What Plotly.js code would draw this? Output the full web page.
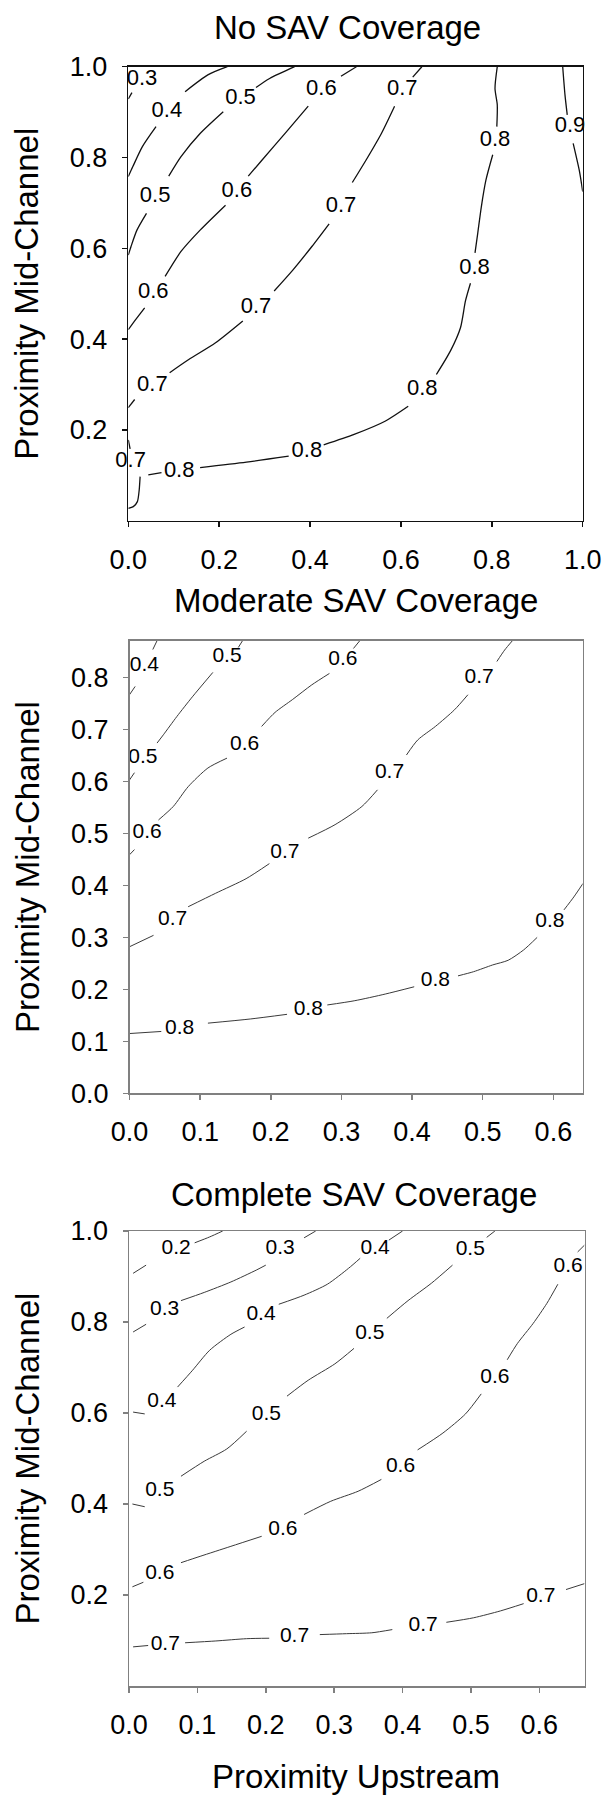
<!DOCTYPE html>
<html>
<head>
<meta charset="utf-8">
<script src="https://cdn.plot.ly/plotly-3.0.1.min.js"></script>
<style>html,body{margin:0;padding:0;background:#fff;}#chart{width:604px;height:1797px;}</style>
</head>
<body>
<div id="chart"></div>
<script>
// ---------- Panel 1: No SAV Coverage ----------
const noTitle = "No SAV Coverage";
const noXTicks = [0.0, 0.2, 0.4, 0.6, 0.8, 1.0];
const noYTicks = [0.2, 0.4, 0.6, 0.8, 1.0];
const no03x = [0, 0.008];
const no03y = [0.929, 0.943];
const no04x = [0.218, 0.175, 0.125, null, 0.061, 0.031, 0.010, 0];
const no04y = [1.0, 0.982, 0.945, null, 0.868, 0.824, 0.780, 0.758];
const no05x = [0.366, 0.311, 0.281, null, 0.209, 0.158, 0.116, 0.089, null, 0.040, 0.019, 0.006, 0];
const no05y = [1.0, 0.974, 0.954, null, 0.901, 0.853, 0.802, 0.759, null, 0.677, 0.640, 0.604, 0.585];
const no06x = [0.502, 0.468, null, 0.396, 0.345, 0.294, 0.264, null, 0.214, 0.158, 0.116, 0.081, null, 0.036, 0.014, 0];
const no06y = [1.0, 0.979, null, 0.913, 0.853, 0.794, 0.759, null, 0.695, 0.640, 0.593, 0.538, null, 0.469, 0.440, 0.421];
const no07x = [0.646, 0.626, null, 0.586, 0.557, 0.523, 0.493, null, 0.442, 0.404, 0.362, 0.321, null, 0.252, 0.192, 0.133, 0.091, null, 0.014, 0];
const no07y = [1.0, 0.977, null, 0.913, 0.853, 0.794, 0.745, null, 0.654, 0.604, 0.552, 0.506, null, 0.440, 0.392, 0.355, 0.326, null, 0.267, 0.249];
const no07bx = [0, 0.004, null, 0.026, 0.024, 0.020, 0.011, 0];
const no07by = [0.178, 0.158, null, 0.097, 0.068, 0.042, 0.031, 0.027];
const no08x = [0.812, 0.807, 0.812, 0.811, null, 0.802, 0.787, 0.777, 0.769, 0.763, null, 0.753, 0.742, 0.731, 0.709, 0.678, null, 0.616, 0.565, 0.497, 0.430, null, 0.353, 0.260, 0.158, null, 0.073, 0.044];
const no08y = [1.0, 0.952, 0.916, 0.868, null, 0.806, 0.750, 0.692, 0.633, 0.590, null, 0.523, 0.484, 0.425, 0.374, 0.322, null, 0.252, 0.219, 0.190, 0.167, null, 0.142, 0.129, 0.117, null, 0.106, 0.101];
const no09x = [0.956, 0.961, 0.966, null, 0.979, 0.993, 1.0];
const no09y = [1.0, 0.938, 0.894, null, 0.831, 0.769, 0.725];
const noLabX = [0.030, 0.085, 0.247, 0.059, 0.425, 0.239, 0.055, 0.603, 0.468, 0.281, 0.053, 0.807, 0.762, 0.647, 0.393, 0.112, 0.972, 0.005];
const noLabY = [0.971, 0.902, 0.930, 0.715, 0.949, 0.726, 0.502, 0.949, 0.692, 0.469, 0.297, 0.837, 0.556, 0.289, 0.152, 0.108, 0.868, 0.130];
const noLabT = ["0.3", "0.4", "0.5", "0.5", "0.6", "0.6", "0.6", "0.7", "0.7", "0.7", "0.7", "0.8", "0.8", "0.8", "0.8", "0.8", "0.9", "0.7"];

// ---------- Panel 2: Moderate SAV Coverage ----------
const modTitle = "Moderate SAV Coverage";
const modXTicks = [0.0, 0.1, 0.2, 0.3, 0.4, 0.5, 0.6];
const modYTicks = [0.0, 0.1, 0.2, 0.3, 0.4, 0.5, 0.6, 0.7, 0.8];
const mod04x = [0.039, 0.033, null, 0.008, 0];
const mod04y = [0.871, 0.854, null, 0.783, 0.767];
const mod05x = [0.160, 0.154, null, 0.118, 0.089, 0.067, 0.048, 0.039, null, 0.007, 0];
const mod05y = [0.871, 0.858, null, 0.810, 0.763, 0.725, 0.690, 0.674, null, 0.617, 0.603];
const mod06x = [0.326, 0.317, null, 0.283, 0.258, 0.231, 0.206, 0.187, null, 0.138, 0.111, 0.083, 0.062, 0.041, null, 0.007, 0];
const mod06y = [0.871, 0.856, null, 0.808, 0.786, 0.758, 0.733, 0.706, null, 0.645, 0.626, 0.590, 0.552, 0.526, null, 0.469, 0.459];
const mod07x = [0.542, 0.531, 0.520, null, 0.479, 0.460, 0.433, 0.408, 0.392, null, 0.351, 0.329, 0.291, 0.253, null, 0.198, 0.165, 0.122, 0.083, null, 0.034, 0];
const mod07y = [0.871, 0.853, 0.831, null, 0.767, 0.738, 0.706, 0.680, 0.651, null, 0.584, 0.552, 0.517, 0.491, null, 0.442, 0.413, 0.385, 0.359, null, 0.304, 0.282];
const mod08x = [0.642, 0.629, 0.615, null, 0.577, 0.558, 0.536, 0.514, 0.487, 0.465, null, 0.403, 0.362, 0.318, 0.280, null, 0.223, 0.171, 0.111, null, 0.045, 0];
const mod08y = [0.404, 0.378, 0.353, null, 0.300, 0.276, 0.256, 0.247, 0.234, 0.226, null, 0.205, 0.191, 0.178, 0.170, null, 0.152, 0.143, 0.135, null, 0.119, 0.115];
const modLabX = [0.021, 0.138, 0.019, 0.302, 0.163, 0.025, 0.495, 0.368, 0.220, 0.061, 0.595, 0.433, 0.253, 0.071];
const modLabY = [0.822, 0.840, 0.645, 0.835, 0.671, 0.501, 0.799, 0.616, 0.463, 0.333, 0.330, 0.216, 0.160, 0.124];
const modLabT = ["0.4", "0.5", "0.5", "0.6", "0.6", "0.6", "0.7", "0.7", "0.7", "0.7", "0.8", "0.8", "0.8", "0.8"];

// ---------- Panel 3: Complete SAV Coverage ----------
const comTitle = "Complete SAV Coverage";
const comXTicks = [0.0, 0.1, 0.2, 0.3, 0.4, 0.5, 0.6];
const comYTicks = [0.2, 0.4, 0.6, 0.8, 1.0];
const com02x = [0.006, 0.025, null, 0.096, 0.118, 0.137];
const com02y = [0.907, 0.925, null, 0.974, 0.987, 1.0];
const com03x = [0.006, 0.025, null, 0.076, 0.110, 0.149, 0.186, 0.200, null, 0.256, 0.273];
const com03y = [0.778, 0.795, null, 0.847, 0.865, 0.888, 0.914, 0.925, null, 0.985, 1.0];
const com04x = [0.006, 0.023, null, 0.071, 0.093, 0.118, 0.149, 0.169, null, 0.219, 0.256, 0.290, 0.321, 0.338, null, 0.380, 0.400];
const com04y = [0.602, 0.598, null, 0.657, 0.694, 0.738, 0.773, 0.789, null, 0.839, 0.859, 0.883, 0.918, 0.940, null, 0.980, 1.0];
const com05x = [0.005, 0.023, null, 0.076, 0.110, 0.143, 0.172, null, 0.231, 0.262, 0.301, 0.329, null, 0.377, 0.408, 0.442, 0.473, null, 0.523, 0.535];
const com05y = [0.400, 0.394, null, 0.461, 0.494, 0.521, 0.560, null, 0.637, 0.672, 0.708, 0.742, null, 0.808, 0.847, 0.885, 0.925, null, 0.986, 1.0];
const com06x = [0.666, 0.656, null, 0.627, 0.611, 0.591, 0.568, 0.553, null, 0.515, 0.492, 0.459, 0.422, null, 0.369, 0.335, 0.295, 0.256, null, 0.194, 0.149, 0.104, 0.076, null, 0.021, 0.005];
const com06y = [0.969, 0.954, null, 0.883, 0.841, 0.797, 0.753, 0.717, null, 0.642, 0.598, 0.556, 0.519, null, 0.454, 0.428, 0.406, 0.377, null, 0.329, 0.307, 0.285, 0.271, null, 0.228, 0.218];
const com07x = [0.006, 0.028, null, 0.082, 0.127, 0.172, 0.205, null, 0.279, 0.318, 0.355, 0.385, null, 0.464, 0.504, 0.543, 0.577, null, 0.639, 0.666];
const com07y = [0.086, 0.089, null, 0.095, 0.099, 0.104, 0.105, null, 0.113, 0.115, 0.117, 0.124, null, 0.140, 0.150, 0.165, 0.181, null, 0.212, 0.225];
const comLabX = [0.069, 0.052, 0.221, 0.048, 0.193, 0.360, 0.045, 0.201, 0.352, 0.499, 0.642, 0.535, 0.397, 0.225, 0.045, 0.053, 0.242, 0.430, 0.602];
const comLabY = [0.960, 0.826, 0.962, 0.624, 0.815, 0.962, 0.430, 0.596, 0.775, 0.958, 0.921, 0.678, 0.481, 0.344, 0.246, 0.091, 0.108, 0.133, 0.197];
const comLabT = ["0.2", "0.3", "0.3", "0.4", "0.4", "0.4", "0.5", "0.5", "0.5", "0.5", "0.6", "0.6", "0.6", "0.6", "0.6", "0.7", "0.7", "0.7", "0.7"];

const axisTitleX = "Proximity Upstream";
const axisTitleY = "Proximity Mid-Channel";

// ---------- build ----------
const FONT = "Liberation Sans, Arial, Helvetica, sans-serif";
const traces = [];
function addLine(x, y, xa, ya, color, width) {
  traces.push({type: "scatter", mode: "lines", x: x, y: y, xaxis: xa, yaxis: ya,
    connectgaps: false, line: {color: color, width: width, shape: "spline", smoothing: 0.7},
    hoverinfo: "skip", showlegend: false});
}
function addLabels(x, y, t, xa, ya, size) {
  traces.push({type: "scatter", mode: "text", x: x, y: y, text: t, xaxis: xa, yaxis: ya,
    textposition: "middle center", cliponaxis: false,
    textfont: {family: FONT, size: size, color: "#000"}, hoverinfo: "skip", showlegend: false});
}
const c1 = "#111", w1 = 1.3;
[[no03x,no03y],[no04x,no04y],[no05x,no05y],[no06x,no06y],[no07x,no07y],[no07bx,no07by],[no08x,no08y],[no09x,no09y]]
  .forEach(p => addLine(p[0], p[1], "x", "y", c1, w1));
addLabels(noLabX, noLabY, noLabT, "x", "y", 22);
const c2 = "#3a3a3a", w2 = 1.0;
[[mod04x,mod04y],[mod05x,mod05y],[mod06x,mod06y],[mod07x,mod07y],[mod08x,mod08y]]
  .forEach(p => addLine(p[0], p[1], "x2", "y2", c2, w2));
addLabels(modLabX, modLabY, modLabT, "x2", "y2", 21);
[[com02x,com02y],[com03x,com03y],[com04x,com04y],[com05x,com05y],[com06x,com06y],[com07x,com07y]]
  .forEach(p => addLine(p[0], p[1], "x3", "y3", c2, w2));
addLabels(comLabX, comLabY, comLabT, "x3", "y3", 21);

function ax(domain, range, ticks, anchor, color, standoff) {
  return {domain: domain, range: range, anchor: anchor, tickmode: "array", tickvals: ticks,
    ticktext: ticks.map(v => v.toFixed(1)), showline: true, mirror: true, linecolor: color,
    linewidth: 1.5, ticks: "outside", ticklen: 5, tickwidth: 1.5, tickcolor: color,
    showgrid: false, zeroline: false, fixedrange: true, ticklabelstandoff: standoff,
    tickfont: {family: FONT, size: 27, color: "#000"}};
}
const W = 604, H = 1797;
const px = v => v / W, py = v => 1 - v / H;
const layout = {
  width: W, height: H, margin: {l: 0, r: 0, t: 0, b: 0}, paper_bgcolor: "#fff", plot_bgcolor: "#fff",
  showlegend: false, hovermode: false,
  xaxis: ax([px(128.3), px(582.7)], [0, 1], noXTicks, "y", "#111", 9),
  yaxis: ax([py(520.7), py(66.7)], [0, 1], noYTicks, "x", "#111", 9),
  xaxis2: ax([px(129.5), px(582.7)], [0, 0.6415], modXTicks, "y2", "#808080", 9),
  yaxis2: ax([py(1093.3), py(640.7)], [0, 0.871], modYTicks, "x2", "#808080", 9),
  xaxis3: ax([px(129), px(584.5)], [0, 0.666], comXTicks, "y3", "#808080", 9),
  yaxis3: ax([py(1686), py(1231)], [0, 1], comYTicks, "x3", "#808080", 9),
  annotations: [
    {text: noTitle, x: px(348), y: py(27)},
    {text: modTitle, x: px(356), y: py(600.7)},
    {text: comTitle, x: px(354), y: py(1194.5)},
    {text: axisTitleX, x: px(356), y: py(1776)},
    {text: axisTitleY, x: px(27), y: py(293.7), textangle: -90},
    {text: axisTitleY, x: px(27), y: py(867), textangle: -90},
    {text: axisTitleY, x: px(27), y: py(1458.5), textangle: -90}
  ].map(a => Object.assign({xref: "paper", yref: "paper", showarrow: false, xanchor: "center",
    yanchor: "middle", font: {family: FONT, size: 33, color: "#000"}}, a))
};
Plotly.newPlot("chart", traces, layout, {staticPlot: true, displayModeBar: false});
</script>
</body>
</html>
